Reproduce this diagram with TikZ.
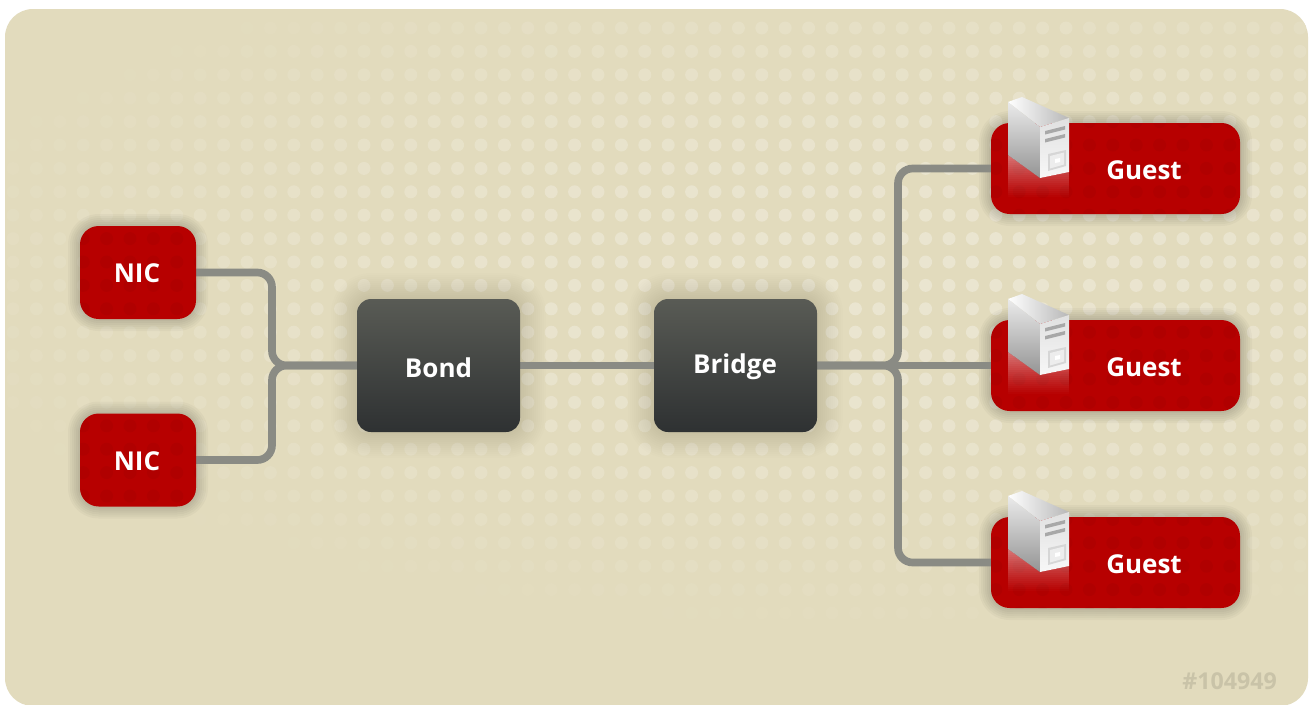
\documentclass[tikz,border=0pt]{standalone}
\usepackage{fontspec}
\setmainfont{Open Sans}
\usetikzlibrary{calc}
\definecolor{paper}{HTML}{E2DBBD}
\definecolor{dotc}{HTML}{EAE5D0}
\definecolor{redbox}{HTML}{B70000}
\definecolor{reddot}{HTML}{A00000}
\definecolor{wirec}{HTML}{8A8B84}
\definecolor{marktxt}{HTML}{C9C3A8}
\definecolor{darktop}{HTML}{595B55}
\definecolor{darkbot}{HTML}{2E3132}
\pgfdeclarelayer{bg}
\pgfdeclarelayer{conn}
\pgfsetlayers{bg,conn,main}
\tikzset{
  redbase/.style={fill=redbox,inner sep=0pt,outer sep=0pt,rounded corners=14pt},
  nicbox/.style={redbase,minimum width=87pt,minimum height=69.75pt},
  guestbox/.style={redbase,minimum width=186.75pt,minimum height=68.25pt},
  darkbox/.style={inner sep=0pt,outer sep=0pt,rounded corners=10.5pt,top color=darktop,bottom color=darkbot,minimum width=122.25pt,minimum height=99.75pt},
  boxtext/.style={text=white,font=\bfseries\fontsize{19.5}{22}\selectfont,inner sep=0pt},
  wire/.style={draw=wirec,line width=5.75pt,rounded corners=11pt},
  marktext/.style={text=marktxt,font=\bfseries\fontsize{17.4}{20}\selectfont,inner sep=0pt}
}
% soft shadow round a named node: {node}{reach px}{corner pt}{opacity per ring}
\newcommand{\softglow}[4]{%
  \foreach \ringr in {2,4,...,#2}{%
    \fill[black,opacity=#4,rounded corners={#3+\ringr*0.75pt}]
      ([xshift=-\ringr*0.75pt,yshift=\ringr*0.75pt]#1.north west) rectangle
      ([xshift=\ringr*0.75pt,yshift=-\ringr*0.75pt]#1.south east);
  }%
}
% server icon, drawn at guest-1 position, shifted vertically
\newcommand{\serverico}[1]{%
  \begin{scope}[yshift=-#1*0.75pt]
    % reflection on the red box
    \begin{scope}
      \clip (1008,155) -- (1040,178) -- (1069,172) -- (1069,197) -- (1008,197) -- cycle;
      \foreach \bandn in {0,...,20}{
        \pgfmathsetmacro{\bandy}{155+2*\bandn}
        \pgfmathsetmacro{\bando}{0.45*(1-\bandn/21)^1.1}
        \fill[white,opacity=\bando] (1008,\bandy) rectangle (1069,\bandy+2);
      }
    \end{scope}
    \shade[left color=white,right color=white!72!black]
      (1008,102) -- (1022,97) -- (1069,118) -- (1040,127) -- cycle;
    \shade[top color=white!92!black,bottom color=white!58!black]
      (1008,102) -- (1040,127) -- (1040,178) -- (1008,155) -- cycle;
    \shade[top color=white!88!black,bottom color=white!97!black]
      (1040,127) -- (1069,118) -- (1069,172) -- (1040,178) -- cycle;
    \fill[white!66!black] (1045,131) -- (1065,126) -- (1065,129.5) -- (1045,134.5) -- cycle;
    \fill[white!66!black] (1045,139) -- (1065,134) -- (1065,137.5) -- (1045,142.5) -- cycle;
    \fill[white!84!black] (1048,154) -- (1066,150) -- (1066,166) -- (1048,171) -- cycle;
    \fill[white!93!black] (1050,156) -- (1064,152.5) -- (1064,164.5) -- (1050,168.5) -- cycle;
    \fill[white] (1055,159) -- (1060,158) -- (1060,162) -- (1055,163) -- cycle;
  \end{scope}%
}
\begin{document}
\begin{tikzpicture}[x=0.75pt,y=-0.75pt]
\useasboundingbox (0,0) rectangle (1313,704);

% nodes
\node[nicbox] (nic1) at (138,272.5) {};
\node[nicbox] (nic2) at (138,460) {};
\node[darkbox] (bond) at (438.5,365.5) {};
\node[darkbox] (bridge) at (735.5,365.5) {};
\node[guestbox] (guest1) at (1115.5,168.5) {};
\node[guestbox] (guest2) at (1115.5,365.5) {};
\node[guestbox] (guest3) at (1115.5,562.5) {};
\coordinate (jl) at (272,365.5);
\coordinate (jr) at (898,365.5);

\begin{pgfonlayer}{bg}
  \fill[white] (0,0) rectangle (1313,704);
  \begin{scope}
    \clip (0,0) rectangle (1313,704);
    \fill[paper,rounded corners=21pt] (5,9) rectangle (1308,706);
    \clip[rounded corners=21pt] (5,9) rectangle (1308,706);
    \foreach \dotj in {0,...,25}{
      \foreach \doti in {0,...,55}{
        \pgfmathsetmacro{\dotx}{13+23.4*\doti}
        \pgfmathsetmacro{\doty}{28+23.4*\dotj}
        \pgfmathsetmacro{\dotp}{100*(1-((\dotx-900)/1000)^2-((\doty-280)/350)^2)}
        \pgfmathparse{\dotp>4?1:0}
        \ifnum\pgfmathresult=1
          \fill[dotc!\dotp!paper] (\dotx,\doty) circle[radius=6.5];
        \fi
      }
    }
  \end{scope}
  \softglow{nic1}{12}{14pt}{.026}
  \softglow{nic2}{12}{14pt}{.026}
  \softglow{guest1}{12}{14pt}{.026}
  \softglow{guest2}{12}{14pt}{.026}
  \softglow{guest3}{12}{14pt}{.026}
  \softglow{bond}{26}{10.5pt}{.008}
  \softglow{bridge}{26}{10.5pt}{.008}
\end{pgfonlayer}

% connectors
\begin{pgfonlayer}{conn}
  \draw[wire] (nic1.east) -| (jl) -- (bond.west);
  \draw[wire] (nic2.east) -| (jl) -- (bond.west);
  \draw[wire] (bond.east) -- (bridge.west);
  \draw[wire] (bridge.east) -- (jr) |- (guest1.west);
  \draw[wire] (bridge.east) -- (guest2.west);
  \draw[wire] (bridge.east) -- (jr) |- (guest3.west);
\end{pgfonlayer}

% subtle darker dots on the red boxes
\foreach \boxn in {nic1,nic2,guest1,guest2,guest3}{
  \begin{scope}
    \clip[rounded corners=14pt] (\boxn.north west) rectangle (\boxn.south east);
    \foreach \dotj in {4,...,25}{
      \foreach \doti in {2,...,53}{
        \pgfmathsetmacro{\dotx}{13+23.4*\doti}
        \pgfmathsetmacro{\doty}{28+23.4*\dotj}
        \path let \p1=(\boxn.north west),\p2=(\boxn.south east) in
          \pgfextra{\pgfmathparse{(\dotx*0.75>\x1-8 && \dotx*0.75<\x2+8 && -\doty*0.75<\y1+8 && -\doty*0.75>\y2-8)?1:0}\global\let\dotin\pgfmathresult};
        \ifnum\dotin=1
          \fill[reddot,opacity=.3] (\dotx,\doty) circle[radius=6.5];
        \fi
      }
    }
  \end{scope}
}

\serverico{0}
\serverico{197}
\serverico{394}

% labels
\node[boxtext] (tnic1) at (137,273) {NIC};
\node[boxtext] (tnic2) at (137,461) {NIC};
\node[boxtext] (tbond) at (438.5,367.5) {Bond};
\node[boxtext] (tbridge) at (735,367) {Bridge};
\node[boxtext] (tg1) at (1144,170) {Guest};
\node[boxtext] (tg2) at (1144,367) {Guest};
\node[boxtext] (tg3) at (1144,564) {Guest};
\node[marktext] (mark) at (1229.5,681) {\#104949};
\end{tikzpicture}
\end{document}
